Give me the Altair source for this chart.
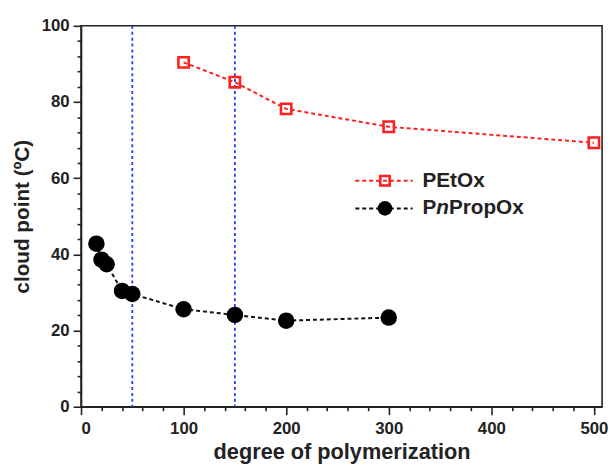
import altair as alt
import pandas as pd

# data
petox_dp = [100, 150, 200, 300, 500]
petox_cp = [90.4, 85.2, 78.2, 73.5, 69.3]
pnprop_dp = [15, 20, 25, 40, 50, 100, 150, 200, 300]
pnprop_cp = [42.8, 38.6, 37.4, 30.4, 29.6, 25.6, 24.1, 22.6, 23.4]
vlines = [50, 150]
x_ticks = list(range(0, 501, 20))
y_ticks = list(range(0, 101, 4))

FONT = "Liberation Sans"
RED = "#ff1f1f"
BLUE = "#1f3cff"

df_pe = pd.DataFrame({"dp": petox_dp, "cp": petox_cp})
df_pn = pd.DataFrame({"dp": pnprop_dp, "cp": pnprop_cp})
df_v = pd.DataFrame({"dp": vlines})

xscale = alt.Scale(domain=[0, 508], nice=False, zero=False)
yscale = alt.Scale(domain=[0, 100], nice=False)

xaxis = alt.Axis(
    title="degree of polymerization",
    values=x_ticks,
    labelExpr="datum.value % 100 === 0 ? datum.label : ''",
    tickSize={"condition": {"test": "datum.value % 100 === 0", "value": 8}, "value": 4},
    grid=False, labelOverlap=False,
    domainColor="#222", domainWidth=1.6, tickColor="#222", tickWidth=1.6,
    labelFont=FONT, labelFontSize=17, labelFontWeight="bold", labelColor="#222",
    labelPadding=6,
    titleFont=FONT, titleFontSize=22, titleFontWeight="bold", titleColor="#222",
    titlePadding=5,
)
yaxis = alt.Axis(
    title="cloud point (ºC)",
    values=y_ticks,
    labelExpr="datum.value % 20 === 0 ? datum.label : ''",
    tickSize={"condition": {"test": "datum.value % 20 === 0", "value": 8}, "value": 4},
    grid=False, labelOverlap=False,
    domainColor="#222", domainWidth=1.6, tickColor="#222", tickWidth=1.6,
    labelFont=FONT, labelFontSize=17, labelFontWeight="bold", labelColor="#222",
    labelPadding=4,
    titleFont=FONT, titleFontSize=21, titleFontWeight="bold", titleColor="#222",
    titlePadding=9,
)

x = alt.X("dp:Q", scale=xscale, axis=xaxis)
y = alt.Y("cp:Q", scale=yscale, axis=yaxis)

rules = alt.Chart(df_v).mark_rule(color=BLUE, strokeDash=[3, 3], strokeWidth=1.8).encode(
    x=alt.X("dp:Q", scale=xscale, axis=xaxis)
)

pe_line = alt.Chart(df_pe).mark_line(color=RED, strokeDash=[4, 3], strokeWidth=2).encode(x=x, y=y)
pe_pts = alt.Chart(df_pe).mark_point(shape="square", filled=False, color=RED, strokeWidth=2.6, size=110, opacity=1).encode(x=x, y=y)
pn_line = alt.Chart(df_pn).mark_line(color="#111", strokeDash=[4, 3], strokeWidth=2).encode(x=x, y=y)
pn_pts = alt.Chart(df_pn).mark_circle(color="#000", size=280, opacity=1).encode(x=x, y=y)

one = pd.DataFrame({"k": [0]})
LY1, LY2 = 157, 185
leg = [
    alt.Chart(one).mark_rule(color=RED, strokeDash=[4, 3], strokeWidth=2).encode(
        x=alt.value(278), x2=alt.value(336), y=alt.value(LY1)),
    alt.Chart(one).mark_point(shape="square", filled=False, color=RED, strokeWidth=2.6, size=90, opacity=1).encode(
        x=alt.value(308), y=alt.value(LY1)),
    alt.Chart(one).mark_text(text="PEtOx", font=FONT, fontSize=21, fontWeight="bold", align="left", baseline="middle", color="#222").encode(
        x=alt.value(346), y=alt.value(LY1)),
    alt.Chart(one).mark_rule(color="#111", strokeDash=[4, 3], strokeWidth=2).encode(
        x=alt.value(278), x2=alt.value(336), y=alt.value(LY2)),
    alt.Chart(one).mark_circle(color="#000", size=220, opacity=1).encode(
        x=alt.value(308), y=alt.value(LY2)),
    alt.Chart(one).mark_text(text="P", font=FONT, fontSize=21, fontWeight="bold", align="left", baseline="middle", color="#222").encode(
        x=alt.value(346), y=alt.value(LY2)),
    alt.Chart(one).mark_text(text="n", font=FONT, fontSize=21, fontWeight="bold", fontStyle="italic", align="left", baseline="middle", color="#222").encode(
        x=alt.value(360), y=alt.value(LY2)),
    alt.Chart(one).mark_text(text="PropOx", font=FONT, fontSize=21, fontWeight="bold", align="left", baseline="middle", color="#222").encode(
        x=alt.value(372.8), y=alt.value(LY2)),
]

chart = alt.layer(rules, pe_line, pn_line, pe_pts, pn_pts, *leg).properties(
    width=528, height=386,
    autosize=alt.AutoSizeParams(type="none"),
    padding={"left": 74, "top": 15, "right": 6, "bottom": 58},
    background="white",
).configure_view(stroke="#222", strokeWidth=1.6)

chart.save("out.html", embed_options={"renderer": "svg", "actions": False})
